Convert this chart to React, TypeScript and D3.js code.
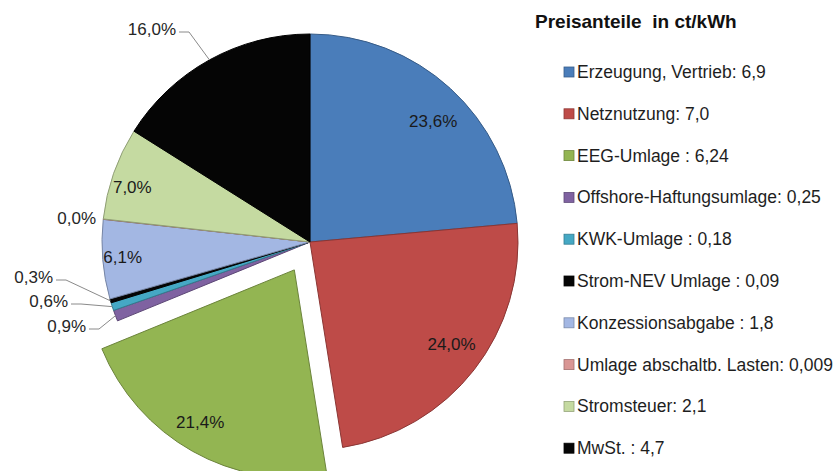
import React from "react";
import * as d3 from "d3";

const categories = [
  "Erzeugung, Vertrieb",
  "Netznutzung",
  "EEG-Umlage",
  "Offshore-Haftungsumlage",
  "KWK-Umlage",
  "Strom-NEV Umlage",
  "Konzessionsabgabe",
  "Umlage abschaltb. Lasten",
  "Stromsteuer",
  "MwSt.",
];
const values = [6.9, 7.0, 6.24, 0.25, 0.18, 0.09, 1.8, 0.009, 2.1, 4.7];
const valueTexts = ["6,9", "7,0", "6,24", "0,25", "0,18", "0,09", "1,8", "0,009", "2,1", "4,7"];
const separators = [": ", ": ", " : ", ": ", " : ", " : ", " : ", ": ", ": ", " : "];
const percentLabels = ["23,6%", "24,0%", "21,4%", "0,9%", "0,6%", "0,3%", "6,1%", "0,0%", "7,0%", "16,0%"];
const colors = ["#4A7DBA", "#BE4B48", "#93B552", "#7F62A1", "#45A8C4", "#050505", "#A3B7E3", "#D99694", "#C5DAA1", "#050505"];
const title = "Preisanteile  in ct/kWh";

// layout constants
const W = 834, H = 471;
const cx = 310, cy = 242, R = 208;
const explodeIndex = 2, explodeDist = 32;
const FONT = "'Liberation Sans', Arial, sans-serif";
// inside labels: [radius, angle shift in degrees]
const insideLayout: Record<number, [number, number]> = {
  0: [172, 3.3],
  1: [175, -1.9],
  2: [179, 2.4],
  6: [188, 0.2],
  8: [186, -2.1],
};
// outside labels: label end point relative to center, leader flag
const outsideLayout: Record<number, { dx: number; dy: number; leader: boolean }> = {
  9: { dx: -134, dy: -213, leader: true },
  7: { dx: -214, dy: -24, leader: false },
  5: { dx: -257, dy: 35, leader: true },
  4: { dx: -242, dy: 59, leader: true },
  3: { dx: -224, dy: 84, leader: true },
};

export default function App() {
  const pie = d3.pie<number>().value((d) => d).sort(null)(values);
  const arc = d3.arc<d3.PieArcDatum<number>>().innerRadius(0).outerRadius(R);
  const mid = (a: d3.PieArcDatum<number>) => (a.startAngle + a.endAngle) / 2;
  const polar = (ang: number, r: number): [number, number] => [Math.sin(ang) * r, -Math.cos(ang) * r];

  return (
    <svg width={W} height={H} style={{ position: "absolute", left: 0, top: 0, background: "#fff" }} fontFamily={FONT}>
      <g transform={`translate(${cx},${cy})`}>
        {pie.map((a, i) => {
          const off = i === explodeIndex ? polar(mid(a), explodeDist) : [0, 0];
          const c = d3.color(colors[i])!;
          const stroke = i === 5 || i === 9 ? "#000" : c.darker(0.9).formatHex();
          return (
            <path
              key={i}
              d={arc(a)!}
              transform={`translate(${off[0]},${off[1]})`}
              fill={colors[i]}
              stroke={stroke}
              strokeWidth={1}
              strokeLinejoin="round"
            />
          );
        })}
        {pie.map((a, i) => {
          const lay = insideLayout[i];
          if (!lay) return null;
          const off = i === explodeIndex ? polar(mid(a), explodeDist) : [0, 0];
          const [x, y] = polar(mid(a) + (lay[1] * Math.PI) / 180, lay[0]);
          return (
            <text
              key={"in" + i}
              x={x + off[0]}
              y={y + off[1]}
              textAnchor="middle"
              dominantBaseline="central"
              fontSize={17}
              fill="#1a1a1a"
            >
              {percentLabels[i]}
            </text>
          );
        })}
        {pie.map((a, i) => {
          const lay = outsideLayout[i];
          if (!lay) return null;
          const p0 = polar(mid(a), R);
          const endX = lay.dx + 3;
          const endY = lay.dy + 3;
          const pts: [number, number][] = [p0, [endX + 10, endY], [endX, endY]];
          return (
            <g key={"out" + i}>
              {lay.leader && (
                <path d={d3.line()(pts)!} fill="none" stroke="#8a8a8a" strokeWidth={1} />
              )}
              <text
                x={lay.dx}
                y={lay.dy}
                textAnchor="end"
                dominantBaseline="central"
                fontSize={17}
                fill="#262626"
              >
                {percentLabels[i]}
              </text>
            </g>
          );
        })}
      </g>
      <text x={535} y={28} fontSize={19} fontWeight="bold" fill="#111" style={{ whiteSpace: "pre" }}>
        {title}
      </text>
      {categories.map((cat, i) => {
        const y = 72 + i * 41.8;
        return (
          <g key={"lg" + i}>
            <rect x={564} y={y - 5} width={10} height={10} fill={colors[i]} stroke={d3.color(colors[i])!.darker(0.8).formatHex()} strokeWidth={0.8} />
            <text x={577} y={y} dominantBaseline="central" fontSize={17.5} fill="#1e1e1e">
              {cat + separators[i] + valueTexts[i]}
            </text>
          </g>
        );
      })}
    </svg>
  );
}
